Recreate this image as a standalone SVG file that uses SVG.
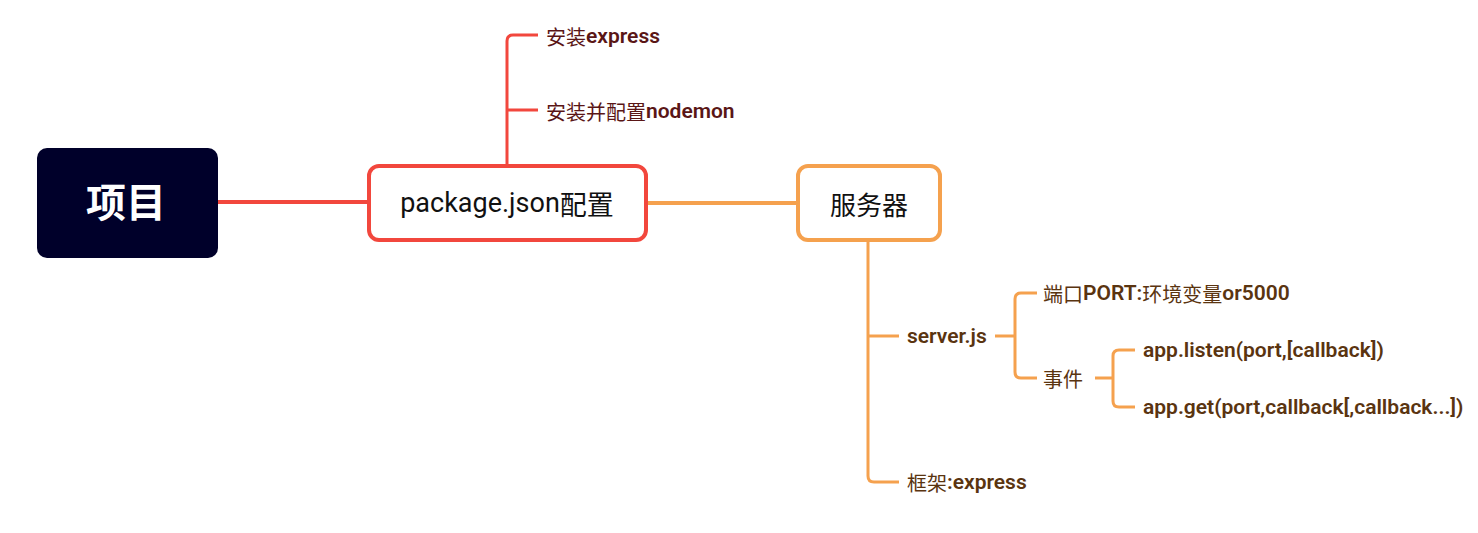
<svg xmlns="http://www.w3.org/2000/svg" width="1478" height="533" viewBox="0 0 1478 533">
<style>
.bg{fill:#ffffff}
.c-red{fill:none;stroke:#f2473d;stroke-linecap:butt;stroke-linejoin:round}
.c-or{fill:none;stroke:#f5a14e;stroke-linecap:butt;stroke-linejoin:round}
.t{font-family:"Roboto","Noto Sans CJK SC",sans-serif;dominant-baseline:central}
.lat{font-weight:600;font-size:21px}
.cjk{font-family:"Noto Sans CJK SC",sans-serif;font-weight:400}
.red{fill:#5a1616;font-size:20px}
.brn{fill:#5a3410;font-size:20px}
</style>
<rect class="bg" x="0" y="0" width="1478" height="533"/>
<g id="connectors">
<path class="c-red" stroke-width="4" d="M218,202 H370"/>
<path class="c-red" stroke-width="3" d="M507,166 V41 Q507,35 513,35 H538 M507,110 H538"/>
<path class="c-or" stroke-width="4" d="M646,203 H798"/>
<path class="c-or" stroke-width="3" d="M868,240 V476 Q868,482 874,482 H899 M868,336 H899"/>
<path class="c-or" stroke-width="3" d="M995,336 H1015 M1037,293 H1021 Q1015,293 1015,299 V372 Q1015,378 1021,378 H1037"/>
<path class="c-or" stroke-width="3" d="M1095,378 H1113 M1135,350 H1119 Q1113,350 1113,356 V401 Q1113,407 1119,407 H1135"/>
</g>
<g id="root">
<rect x="37" y="148" width="181" height="110" rx="10" fill="#00002a"/>
<text class="t" x="126" y="203" text-anchor="middle" font-size="40" font-weight="700" fill="#ffffff" font-family="Noto Sans CJK SC, sans-serif">项目</text>
</g>
<g id="pkg">
<rect x="369" y="166" width="277" height="74" rx="10" fill="#ffffff" stroke="#f2473d" stroke-width="4"/>
<text class="t" x="507" y="203" text-anchor="middle" font-size="27" fill="#111111">package.json<tspan class="cjk">配置</tspan></text>
</g>
<g id="install-express">
<text class="t red" x="546" y="36"><tspan class="cjk">安装</tspan><tspan class="lat">express</tspan></text>
</g>
<g id="install-nodemon">
<text class="t red" x="546" y="111"><tspan class="cjk">安装并配置</tspan><tspan class="lat">nodemon</tspan></text>
</g>
<g id="server">
<rect x="798" y="166" width="142" height="74" rx="10" fill="#ffffff" stroke="#f5a14e" stroke-width="4"/>
<text class="t cjk" x="869" y="203" text-anchor="middle" font-size="26" fill="#111111">服务器</text>
</g>
<g id="serverjs">
<text class="t brn" x="907" y="336"><tspan class="lat">server.js</tspan></text>
</g>
<g id="port">
<text class="t brn" x="1043" y="293"><tspan class="cjk">端口</tspan><tspan class="lat">PORT:</tspan><tspan class="cjk">环境变量</tspan><tspan class="lat">or5000</tspan></text>
</g>
<g id="events">
<text class="t brn cjk" x="1043" y="378">事件</text>
</g>
<g id="listen">
<text class="t brn" x="1143" y="350"><tspan class="lat">app.listen(port,[callback])</tspan></text>
</g>
<g id="get">
<text class="t brn" x="1143" y="407"><tspan class="lat">app.get(port,callback[,callback...])</tspan></text>
</g>
<g id="framework">
<text class="t brn" x="907" y="482"><tspan class="cjk">框架</tspan><tspan class="lat">:express</tspan></text>
</g>
</svg>
